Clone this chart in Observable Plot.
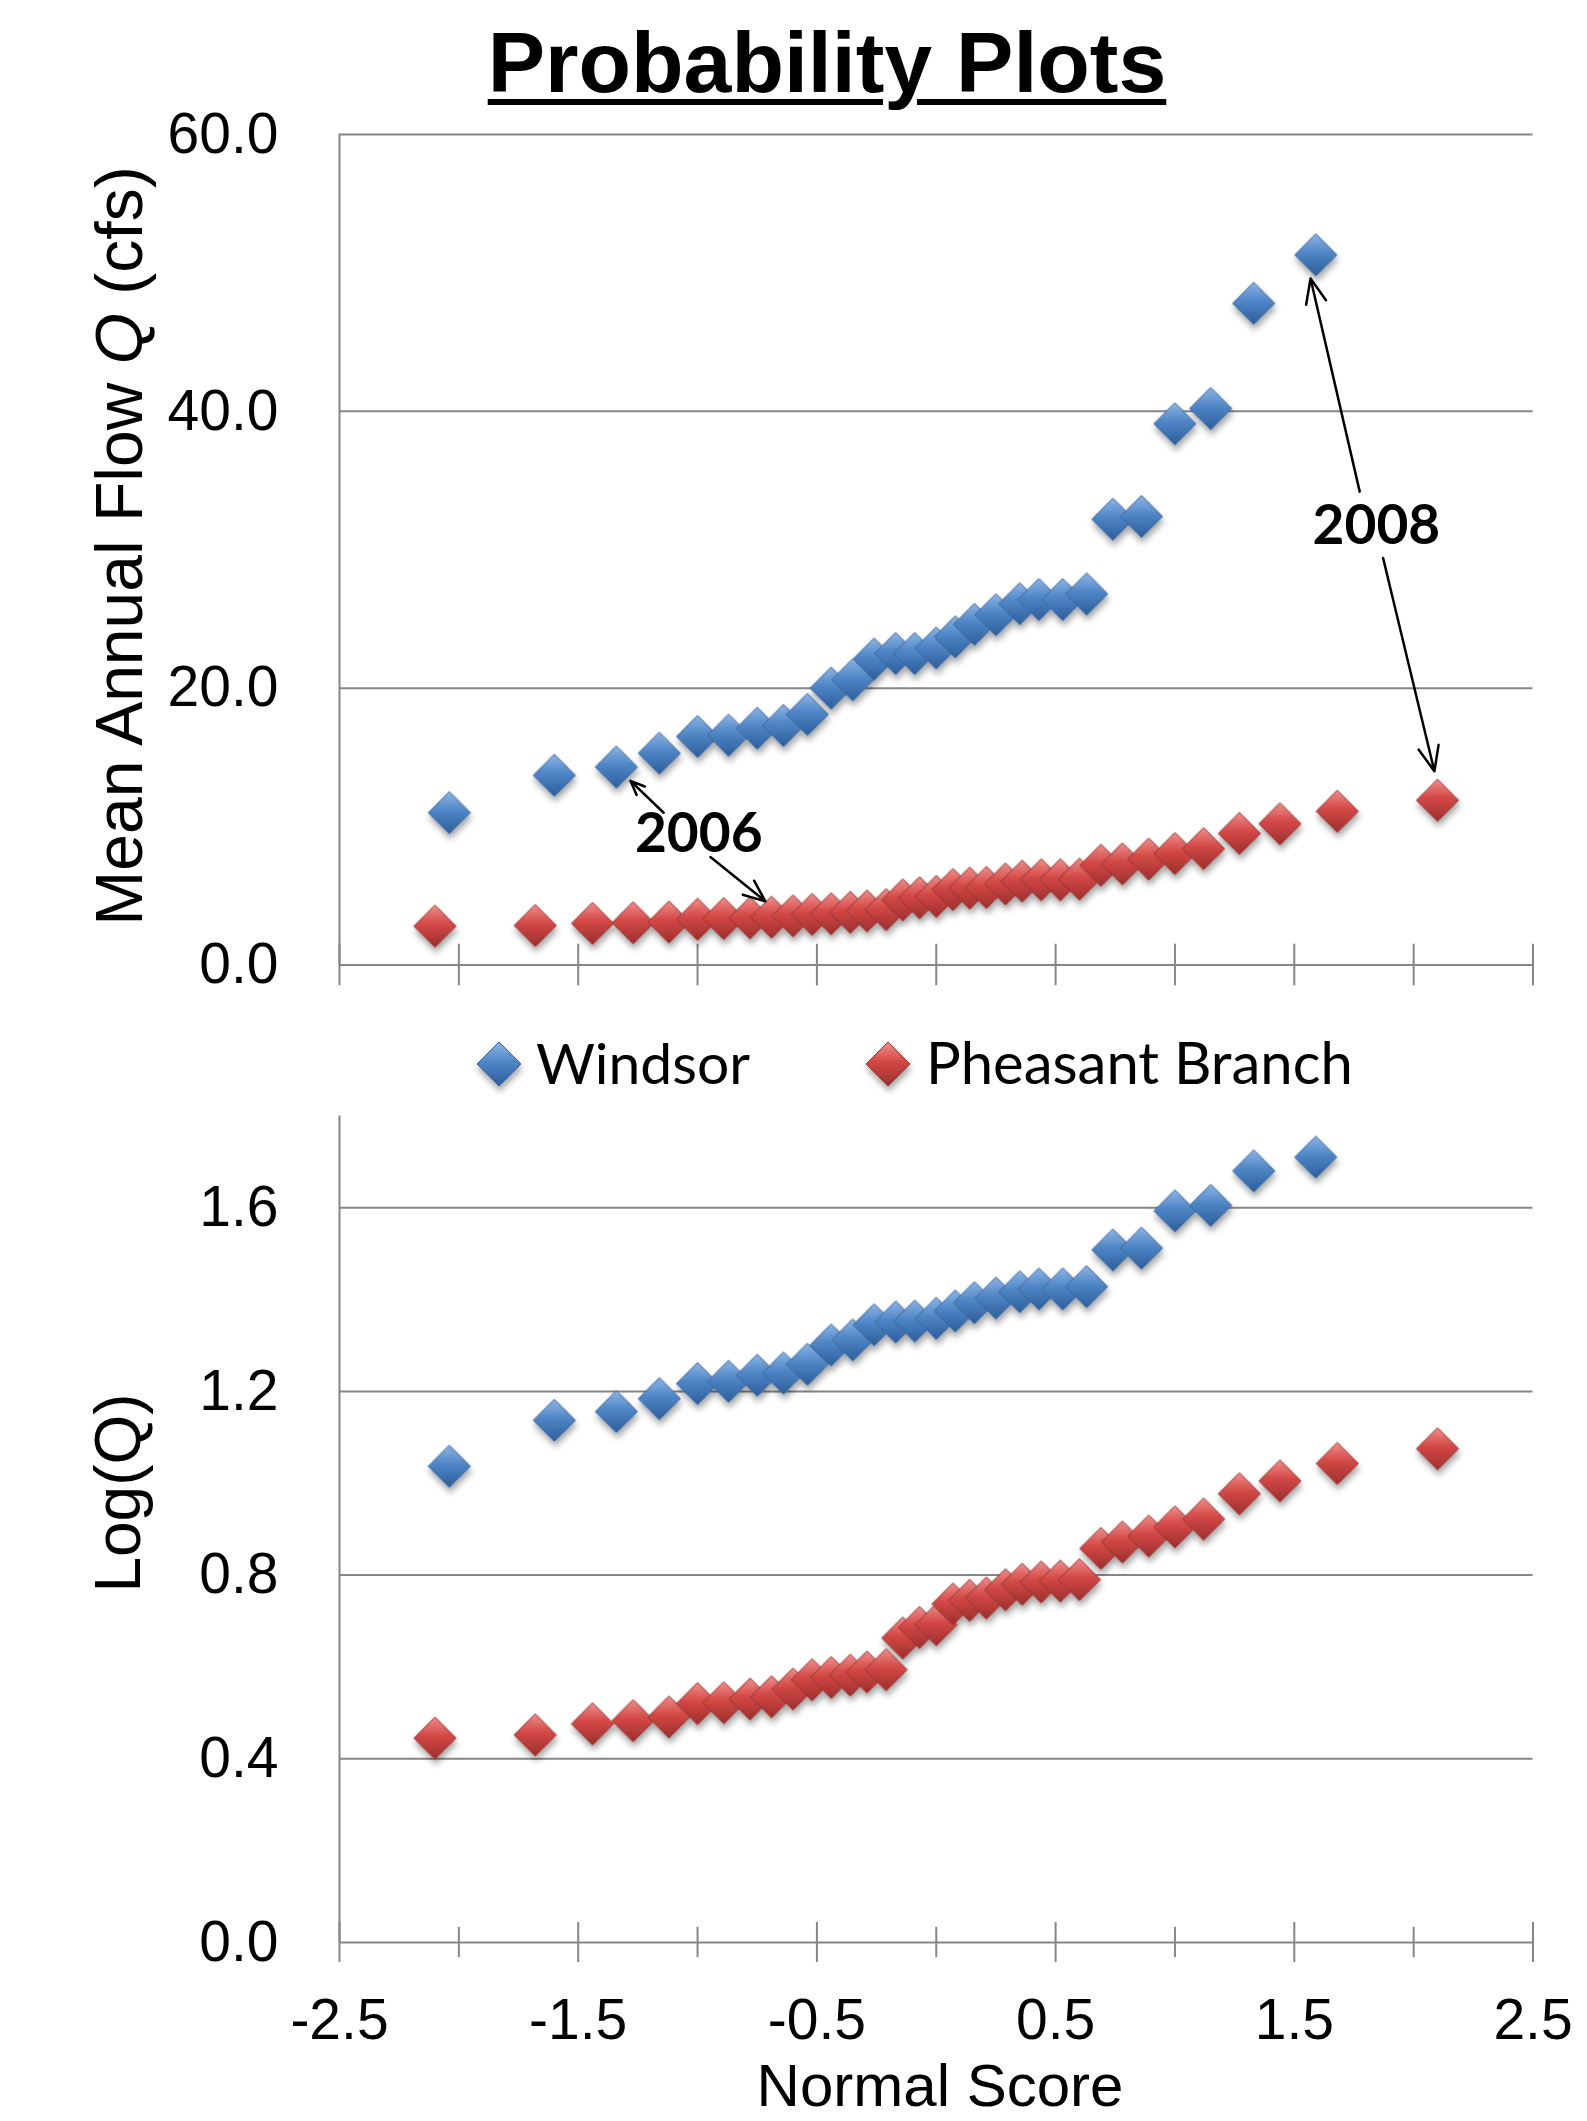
<!DOCTYPE html>
<html>
<head>
<meta charset="utf-8">
<script src="https://cdn.jsdelivr.net/npm/d3@7"></script>
<script src="https://cdn.jsdelivr.net/npm/@observablehq/plot@0.6"></script>
<style>
html, body { margin:0; padding:0; background:#fff; width:1587px; height:2121px; overflow:hidden; position:relative;
  font-family:"Liberation Sans", Arial, sans-serif; color:#000; }
.abs { position:absolute; }
#title { left:427px; top:19px; width:800px; text-align:center; font-size:86px; line-height:86px; font-weight:bold;
  text-decoration:underline; text-decoration-thickness:6px; text-underline-offset:7px; white-space:nowrap; }
.ylab { width:900px; text-align:center; white-space:nowrap; transform:rotate(-90deg); transform-origin:50% 50%; }
#ytitle1 { left:-331px; top:513px; height:66px; font-size:66px; line-height:66px; }
#ytitle2 { left:-332px; top:1461px; height:64px; font-size:64px; line-height:64px; }
#xtitle { left:540px; top:2059px; width:800px; height:54px; text-align:center; font-size:60px; line-height:54px; white-space:nowrap; }
.dotsB, .dotsR { filter:url(#shadow); }
</style>
</head>
<body>
<svg width="0" height="0" style="position:absolute">
  <defs>
    <linearGradient id="gBlue" x1="0" y1="0" x2="0" y2="1">
      <stop offset="0" stop-color="#8db5e6"/>
      <stop offset="0.45" stop-color="#4f86c6"/>
      <stop offset="1" stop-color="#2d5d9c"/>
    </linearGradient>
    <linearGradient id="gRed" x1="0" y1="0" x2="0" y2="1">
      <stop offset="0" stop-color="#f08e8b"/>
      <stop offset="0.45" stop-color="#d34845"/>
      <stop offset="1" stop-color="#9c2f2d"/>
    </linearGradient>
    <filter id="shadow" x="-30%" y="-30%" width="160%" height="170%">
      <feDropShadow dx="1" dy="5" stdDeviation="3" flood-color="#000" flood-opacity="0.35"/>
    </filter>
  </defs>
</svg>

<div id="topchart" class="abs" style="left:0;top:0"></div>
<div id="bottomchart" class="abs" style="left:0;top:1100px"></div>

<svg class="abs" style="left:0;top:1018px" width="1587" height="100">
  <path d="M499,24 L521,46 L499,68 L477,46 Z" fill="url(#gBlue)" stroke="#3b6497" stroke-width="1" filter="url(#shadow)"/>
  <text x="536" y="66" font-family="Lato, 'Open Sans', sans-serif" font-size="57">Windsor</text>
  <path d="M888,24 L910,46 L888,68 L866,46 Z" fill="url(#gRed)" stroke="#8f3432" stroke-width="1" filter="url(#shadow)"/>
  <text x="926" y="66" font-family="Lato, 'Open Sans', sans-serif" font-size="58">Pheasant Branch</text>
</svg>

<div id="title" class="abs">Probability Plots</div>
<div id="ytitle1" class="abs ylab">Mean Annual Flow <i>Q</i> (cfs)</div>
<div id="ytitle2" class="abs ylab">Log(Q)</div>
<div id="xtitle" class="abs">Normal Score</div>

<script>
// ---- Data ----
const xTicks = [-2.5, -2, -1.5, -1, -0.5, 0, 0.5, 1, 1.5, 2, 2.5];
const xLabelTicks = [-2.5, -1.5, -0.5, 0.5, 1.5, 2.5];
const xMinorTicks = [-2, -1, 0, 1, 2];
const yTicksTop = [0, 20, 40, 60];
const yTicksBottom = [0, 0.4, 0.8, 1.2, 1.6];

const windsorZ = [-2.04, -1.60, -1.34, -1.16, -1.00, -0.87, -0.75, -0.64, -0.54, -0.44, -0.35, -0.26, -0.17, -0.09,
  0.00, 0.08, 0.16, 0.25, 0.35, 0.43, 0.53, 0.63, 0.74, 0.86, 1.00, 1.15, 1.33, 1.59];
const windsorQ = [11.0, 13.7, 14.3, 15.3, 16.5, 16.6, 17.1, 17.3, 18.1, 20.0, 20.6, 22.1, 22.5, 22.5,
  22.9, 23.7, 24.6, 25.3, 26.1, 26.4, 26.4, 26.8, 32.2, 32.4, 39.1, 40.2, 47.8, 51.3];
const windsorLogQ = [1.037, 1.137, 1.156, 1.184, 1.217, 1.222, 1.235, 1.240, 1.259, 1.301, 1.312, 1.345, 1.351, 1.353,
  1.359, 1.375, 1.393, 1.403, 1.417, 1.423, 1.423, 1.428, 1.508, 1.512, 1.593, 1.605, 1.680, 1.710];

const pheasantZ = [-2.10, -1.68, -1.44, -1.27, -1.12, -1.00, -0.89, -0.78, -0.69, -0.60, -0.52, -0.44, -0.36, -0.29,
  -0.21, -0.14, -0.07, 0.00, 0.07, 0.14, 0.21, 0.29, 0.36, 0.44, 0.52, 0.60, 0.69, 0.78, 0.89, 1.00, 1.12, 1.27, 1.44, 1.68, 2.10];
const pheasantQ = [2.8, 2.85, 3.0, 3.05, 3.1, 3.3, 3.35, 3.4, 3.45, 3.55, 3.65, 3.7, 3.8, 3.9,
  4.0, 4.7, 4.85, 4.95, 5.45, 5.55, 5.6, 5.85, 6.05, 6.15, 6.15, 6.2, 7.2, 7.3, 7.65, 8.05, 8.4, 9.5, 10.2, 11.1, 11.9];
const pheasantLogQ = [0.445, 0.452, 0.476, 0.483, 0.491, 0.520, 0.522, 0.530, 0.535, 0.552, 0.572, 0.577, 0.582, 0.589,
  0.594, 0.663, 0.686, 0.692, 0.737, 0.745, 0.750, 0.768, 0.780, 0.785, 0.787, 0.790, 0.858, 0.872, 0.885, 0.905, 0.922, 0.977, 1.005, 1.043, 1.075];

const annotLabels = [
  {label: "2006", z: -0.995, q: 9.4},
  {label: "2008", z: 1.844, q: 31.7}
];
const annotArrows = [
  {x1: -1.142, y1: 11.0, x2: -1.281, y2: 13.3},
  {x1: -0.946, y1: 7.8, x2: -0.716, y2: 4.6},
  {x1: 1.774, y1: 34.2, x2: 1.568, y2: 49.6},
  {x1: 1.872, y1: 29.4, x2: 2.087, y2: 14.0}
];

// ---- Build tables ----
const windsor = windsorZ.map((z, i) => ({z, q: windsorQ[i], logq: windsorLogQ[i]}));
const pheasant = pheasantZ.map((z, i) => ({z, q: pheasantQ[i], logq: pheasantLogQ[i]}));

const grid = "#868686";
const baseStyle = {background: "transparent", fontFamily: '"Liberation Sans", Arial, sans-serif',
  fontSize: "57px", color: "#000", overflow: "visible"};
const blueDot = {symbol: "diamond2", r: 19, fill: "url(#gBlue)", stroke: "#3b6497", strokeWidth: 1, className: "dotsB"};
const redDot = {symbol: "diamond2", r: 19, fill: "url(#gRed)", stroke: "#8f3432", strokeWidth: 1, className: "dotsR"};

const topPlot = Plot.plot({
  width: 1587, height: 1000,
  marginLeft: 339, marginRight: 54.5, marginTop: 134, marginBottom: 35.5,
  x: {domain: [-2.5, 2.5], axis: null},
  y: {domain: [0, 60]},
  style: baseStyle,
  marks: [
    Plot.ruleY(yTicksTop, {stroke: grid, strokeWidth: 2}),
    Plot.ruleX([-2.5], {stroke: grid, strokeWidth: 2}),
    Plot.ruleX(xTicks, {x: d => d, y1: -1.5, y2: 1.5, stroke: grid, strokeWidth: 2}),
    Plot.axisY({ticks: yTicksTop, tickSize: 0, tickPadding: 61, tickFormat: d => d.toFixed(1), label: null, fontSize: 57}),
    Plot.dot(windsor, {x: "z", y: "q", ...blueDot}),
    Plot.dot(pheasant, {x: "z", y: "q", ...redDot}),
    Plot.arrow(annotArrows, {x1: "x1", y1: "y1", x2: "x2", y2: "y2", stroke: "#000", strokeWidth: 2.5, headLength: 16, headAngle: 45}),
    Plot.text(annotLabels, {x: "z", y: "q", text: "label", fontSize: 55, fontWeight: "bold", fontFamily: "Lato, 'Open Sans', sans-serif", fill: "#000"})
  ]
});
document.getElementById("topchart").appendChild(topPlot);

const bottomPlot = Plot.plot({
  width: 1587, height: 1021,
  marginLeft: 339, marginRight: 54.5, marginTop: 15.4, marginBottom: 179,
  x: {domain: [-2.5, 2.5]},
  y: {domain: [0, 1.8]},
  style: baseStyle,
  marks: [
    Plot.ruleY(yTicksBottom, {stroke: grid, strokeWidth: 2}),
    Plot.ruleX([-2.5], {stroke: grid, strokeWidth: 2}),
    Plot.ruleX(xLabelTicks, {x: d => d, y1: -0.0435, y2: 0.0435, stroke: grid, strokeWidth: 2}),
    Plot.ruleX(xMinorTicks, {x: d => d, y1: -0.033, y2: 0.033, stroke: grid, strokeWidth: 2}),
    Plot.axisY({ticks: yTicksBottom, tickSize: 0, tickPadding: 61, tickFormat: d => d.toFixed(1), label: null, fontSize: 57}),
    Plot.axisX({ticks: xLabelTicks, tickSize: 0, tickPadding: 56, tickFormat: d => d.toFixed(1), label: null, fontSize: 57}),
    Plot.dot(windsor, {x: "z", y: "logq", ...blueDot}),
    Plot.dot(pheasant, {x: "z", y: "logq", ...redDot})
  ]
});
document.getElementById("bottomchart").appendChild(bottomPlot);
</script>
</body>
</html>
